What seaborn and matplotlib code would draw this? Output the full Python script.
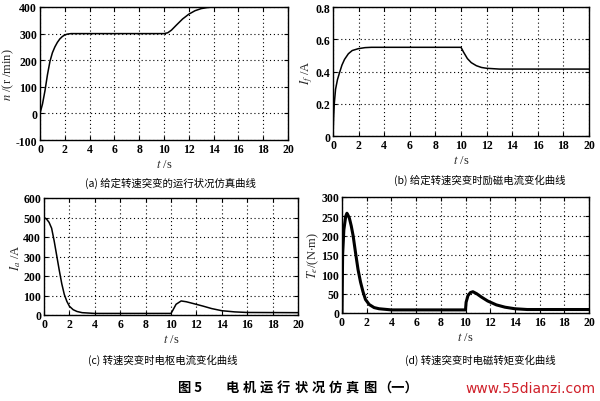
import numpy as np
import pandas as pd
import matplotlib
matplotlib.use("Agg")
import matplotlib.pyplot as plt
import seaborn as sns

# ---------------- data ----------------
t_a = [0, 0.2, 0.4, 0.6, 0.8, 1.0, 1.2, 1.4, 1.6, 1.8, 2.0, 2.2, 2.5, 3.0,
       10.0, 10.3, 10.6, 11.0, 11.5, 12.0, 12.5, 13.0, 13.5, 14.0, 15.0, 20.0]
n_a = [0, 35, 85, 145, 195, 228, 250, 267, 280, 289, 295, 298, 300, 300,
       300, 303, 313, 332, 355, 373, 386, 394, 398, 400, 400, 400]

t_b = [0, 0.05, 0.1, 0.2, 0.35, 0.5, 0.7, 0.9, 1.2, 1.5, 2.0, 2.5, 3.0,
       10.0, 10.2, 10.5, 10.8, 11.2, 11.6, 12.0, 13.0, 20.0]
if_b = [0, 0.12, 0.2, 0.29, 0.35, 0.39, 0.44, 0.475, 0.51, 0.53, 0.542, 0.548, 0.55,
        0.55, 0.52, 0.48, 0.455, 0.436, 0.425, 0.42, 0.415, 0.415]

t_c = [0, 0.2, 0.4, 0.6, 0.8, 1.0, 1.2, 1.4, 1.6, 1.8, 2.0, 2.3, 2.6, 3.0, 4.0,
       10.0, 10.15, 10.4, 10.8, 11.2, 11.8, 12.5, 13.2, 14.0, 15.0, 16.0, 20.0]
ia_c = [500, 492, 475, 445, 380, 305, 230, 160, 105, 70, 45, 27, 18, 12, 8,
        8, 25, 55, 72, 68, 58, 46, 33, 22, 16, 13, 12]

t_d = [0, 0.05, 0.15, 0.3, 0.4, 0.5, 0.6, 0.75, 0.9, 1.1, 1.3, 1.5, 1.7, 1.9, 2.2, 2.6, 3.0, 4.0,
       10.0, 10.05, 10.2, 10.4, 10.6, 10.9, 11.3, 11.8, 12.5, 13.2, 14.0, 15.0, 16.0, 20.0]
te_d = [0, 150, 215, 250, 258, 252, 245, 225, 200, 155, 112, 80, 55, 35, 22, 14, 11, 8,
        8, 28, 45, 53, 55, 50, 41, 31, 21, 15, 11, 9, 9, 9]

x_ticks = list(range(0, 21, 2))
yticks_a = [-100, 0, 100, 200, 300, 400]
yticks_b = [0, 0.2, 0.4, 0.6, 0.8]
yticks_c = [0, 100, 200, 300, 400, 500, 600]
yticks_d = [0, 50, 100, 150, 200, 250, 300]

captions = ["(a) 给定转速突变的运行状况仿真曲线",
            "(b) 给定转速突变时励磁电流变化曲线",
            "(c) 转速突变时电枢电流变化曲线",
            "(d) 转速突变时电磁转矩变化曲线"]
title_num = "图 5"
title_chars = "电机运行状况仿真图"
title_tail = "（一）"
watermark = "www.55dianzi.com"

# ---------------- style ----------------
sns.set_theme(style="white")
plt.rcParams['font.family'] = ['Liberation Serif', 'DejaVu Serif']
plt.rcParams['mathtext.fontset'] = 'stix'
plt.rcParams['axes.unicode_minus'] = False
plt.rcParams['xtick.direction'] = 'in'
plt.rcParams['ytick.direction'] = 'in'

W, H = 600, 402
fig = plt.figure(figsize=(W / 100, H / 100), dpi=100)
fig.patch.set_facecolor('white')

def rect(l, r, t, b):
    return [l / W, 1 - b / H, (r - l) / W, (b - t) / H]

panels = [
    (rect(40, 288, 8, 141), t_a, n_a, yticks_a, (-100, 400), r"$n$ /(r /min)", 1.1),
    (rect(333, 589, 8, 137), t_b, if_b, yticks_b, (0, 0.8), r"$I_f$ /A", 1.1),
    (rect(44, 298, 199, 316), t_c, ia_c, yticks_c, (0, 600), r"$I_a$ /A", 1.1),
    (rect(342, 589, 198, 314), t_d, te_d, yticks_d, (0, 300), r"$T_e$/(N$\cdot$m)", 2.2),
]

for pos, tx, vy, yt, ylim, ylab, lw in panels:
    ax = fig.add_axes(pos)
    df = pd.DataFrame({"t": tx, "v": vy})
    sns.lineplot(data=df, x="t", y="v", ax=ax, color="black", linewidth=lw)
    ax.set_xlim(0, 20)
    ax.set_ylim(*ylim)
    ax.set_xticks(x_ticks)
    ax.set_yticks(yt)
    if ylim[1] < 1:
        ax.set_yticklabels([("%g" % v) for v in yt])
    ax.grid(True, color="black", linestyle=(0, (1, 2.5)), linewidth=0.8)
    for s in ax.spines.values():
        s.set_color("black")
        s.set_linewidth(1.0)
    ax.tick_params(axis="both", which="both", labelsize=8.5, length=3, width=0.8,
                   color="black", labelcolor="black", pad=2,
                   top=True, right=True, bottom=True, left=True)
    for lab in ax.get_xticklabels() + ax.get_yticklabels():
        lab.set_fontweight("bold")
    ax.set_xlabel(r"$t$ /s", fontsize=9, labelpad=2)
    ax.set_ylabel(ylab, fontsize=9, labelpad=0)

cjk = ['Noto Sans CJK SC', 'DejaVu Sans']
cap_pos = [(170, 183), (480, 180), (163, 360), (480, 360)]
for (cx, cy), txt in zip(cap_pos, captions):
    fig.text(cx / W, 1 - cy / H, txt, ha="center", va="center", fontsize=7.5,
             family=cjk, color="black")

ty = 1 - 388 / H
fig.text(178 / W, ty, title_num, ha="left", va="center", fontsize=9.5,
         family=cjk, fontweight="bold", color="black")
for i, ch in enumerate(title_chars):
    fig.text((232 + i * 17.2) / W, ty, ch, ha="center", va="center", fontsize=9.5,
             family=cjk, fontweight="bold", color="black")
fig.text(378 / W, ty, title_tail, ha="left", va="center", fontsize=9.5,
         family=cjk, fontweight="bold", color="black")

fig.text(530 / W, 1 - 389 / H, watermark, ha="center", va="center", fontsize=10,
         family=['DejaVu Sans'], color="#d0202a")

fig.savefig("out.png", dpi=100, facecolor="white")
